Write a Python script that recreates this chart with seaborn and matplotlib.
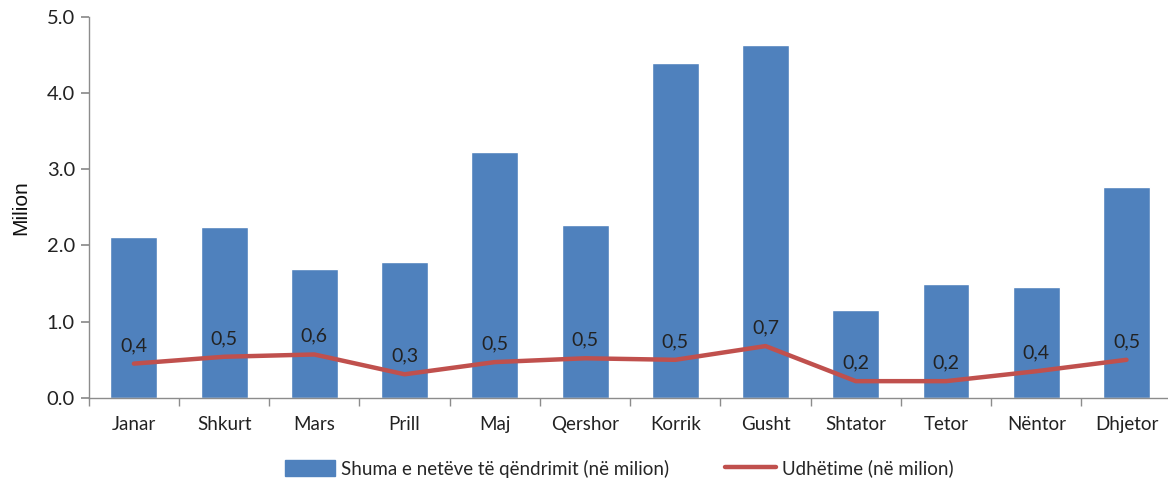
import matplotlib
matplotlib.use("Agg")
import matplotlib.pyplot as plt
import numpy as np
import pandas as pd
import seaborn as sns
from matplotlib.lines import Line2D
from matplotlib.patches import Patch
from matplotlib.ticker import FixedLocator, FormatStrFormatter

months = ["Janar", "Shkurt", "Mars", "Prill", "Maj", "Qershor",
          "Korrik", "Gusht", "Shtator", "Tetor", "Nëntor", "Dhjetor"]
nights = [2.11, 2.24, 1.69, 1.78, 3.23, 2.27, 4.40, 4.63, 1.15, 1.50, 1.46, 2.77]
trips = [0.45, 0.54, 0.57, 0.31, 0.47, 0.52, 0.50, 0.68, 0.22, 0.22, 0.35, 0.50]
trip_labels = ["0,4", "0,5", "0,6", "0,3", "0,5", "0,5",
               "0,5", "0,7", "0,2", "0,2", "0,4", "0,5"]

BAR = "#4F81BD"
LINE = "#C0504D"
AXIS = "#8C8C8C"

sns.set_theme(style="white")
plt.rcParams["font.family"] = ["Lato", "DejaVu Sans"]

df = pd.DataFrame({"month": months, "nights": nights, "trips": trips})

fig = plt.figure(figsize=(11.68, 4.8), dpi=100)
ax = fig.add_axes([0.076, 0.171, 0.924, 0.794])

sns.barplot(data=df, x="month", y="nights", color=BAR, width=0.52,
            saturation=1, ax=ax)
sns.lineplot(x=np.arange(len(months)), y=df["trips"], color=LINE,
             linewidth=3.2, ax=ax)

for i, (v, lab) in enumerate(zip(trips, trip_labels)):
    ax.annotate(lab, (i, v), xytext=(0, 7), textcoords="offset points",
                ha="center", va="bottom", fontsize=14, color="#222222")

ax.set_ylim(0, 5.0)
ax.set_xlim(-0.5, 11.46)
ax.set_yticks(np.arange(0, 5.01, 1.0))
ax.yaxis.set_major_formatter(FormatStrFormatter("%.1f"))
ax.set_xticks(range(len(months)))
ax.set_xticklabels(months)
ax.xaxis.set_minor_locator(FixedLocator(np.arange(-0.5, 12, 1.0)))

ax.tick_params(axis="x", which="major", length=0, pad=13, labelsize=13.5,
               colors="#222222")
ax.tick_params(axis="x", which="minor", length=6, color=AXIS, direction="out",
               bottom=True)
ax.tick_params(axis="y", length=6, color=AXIS, direction="out", left=True,
               labelsize=14.5, colors="#222222", pad=4)

for side in ["top", "right"]:
    ax.spines[side].set_visible(False)
for side in ["left", "bottom"]:
    ax.spines[side].set_color(AXIS)
    ax.spines[side].set_linewidth(1.0)

ax.set_xlabel("")
ax.set_ylabel("Milion", fontsize=15, family=["Liberation Sans", "DejaVu Sans"],
              labelpad=12, color="#111111")

handles = [Patch(facecolor=BAR, edgecolor=BAR),
           Line2D([0], [0], color=LINE, linewidth=3.2)]
labels = ["Shuma e netëve të qëndrimit (në milion)", "Udhëtime (në milion)"]
fig.legend(handles, labels, loc="center", bbox_to_anchor=(0.53, 0.024),
           ncol=2, frameon=False, fontsize=13.5, handlelength=2.7,
           handleheight=0.9, columnspacing=3.0, handletextpad=0.3)

fig.savefig("out.png", dpi=100)
plt.close(fig)
